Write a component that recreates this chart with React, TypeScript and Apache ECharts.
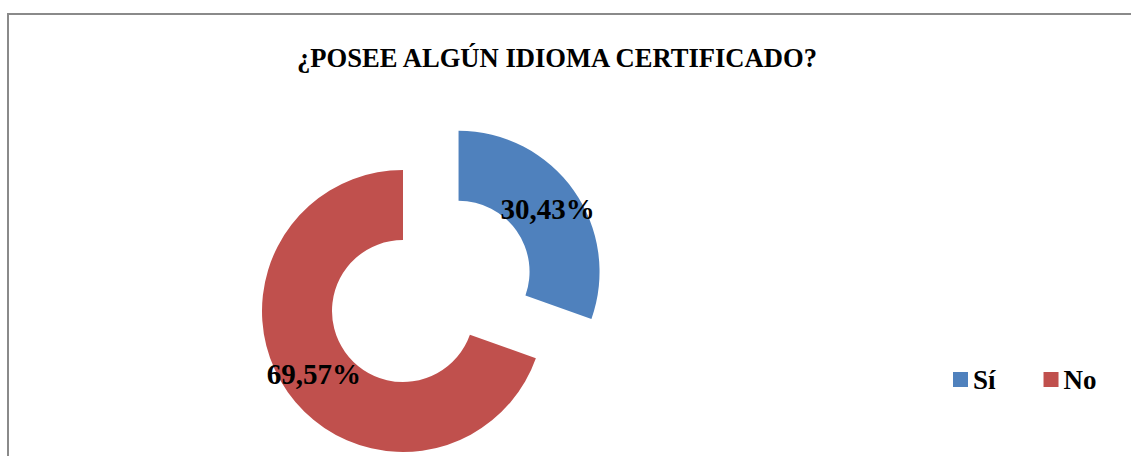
import React, { useEffect, useRef } from "react";
import * as echarts from "echarts";

const titleText = "¿POSEE ALGÚN IDIOMA CERTIFICADO?";
const categories = ["Sí", "No"];
const values = [30.43, 69.57];
const colors = ["#4F81BD", "#C0504D"];

export default function App() {
  const ref = useRef<HTMLDivElement>(null);
  useEffect(() => {
    if (!ref.current) return;
    const chart = echarts.init(ref.current, null, { renderer: "svg" });
    const font = "'Liberation Serif', 'DejaVu Serif', serif";
    chart.setOption({
      animation: false,
      backgroundColor: "#ffffff",
      title: {
        text: titleText,
        left: 552,
        top: 39,
        textAlign: "center",
        textStyle: { fontFamily: font, fontWeight: "bold", fontSize: 26.6, color: "#000" },
      },
      legend: {
        left: 948,
        top: 361,
        itemWidth: 15,
        itemHeight: 15,
        itemGap: 48,
        icon: "rect",
        selectedMode: false,
        data: categories,
        textStyle: { fontFamily: font, fontWeight: "bold", fontSize: 27, color: "#000", padding: [0, 0, 0, 0] },
      },
      graphic: [
        {
          type: "rect",
          shape: { x: 8, y: 14, width: 1140, height: 500 },
          style: { fill: "none", stroke: "#8a8a8a", lineWidth: 2 },
          silent: true,
        },
      ],
      series: [
        {
          type: "pie",
          center: [403, 311],
          radius: [71, 141],
          startAngle: 90,
          clockwise: true,
          selectedMode: "single",
          selectedOffset: 68,
          avoidLabelOverlap: false,
          emphasis: { disabled: true },
          label: {
            show: true,
            position: "inside",
            formatter: (p: any) => p.value.toFixed(2).replace(".", ",") + "%",
            fontFamily: font,
            fontWeight: "bold",
            fontSize: 29,
            color: "#000",
          },
          labelLine: { show: false },
          data: categories.map((c, i) => ({
            name: c,
            value: values[i],
            selected: i === 0,
            itemStyle: { color: colors[i] },
          })),
        },
      ],
    });
    return () => chart.dispose();
  }, []);
  return (
    <div
      ref={ref}
      style={{ position: "fixed", left: 0, top: 0, width: 1131, height: 456 }}
    />
  );
}
